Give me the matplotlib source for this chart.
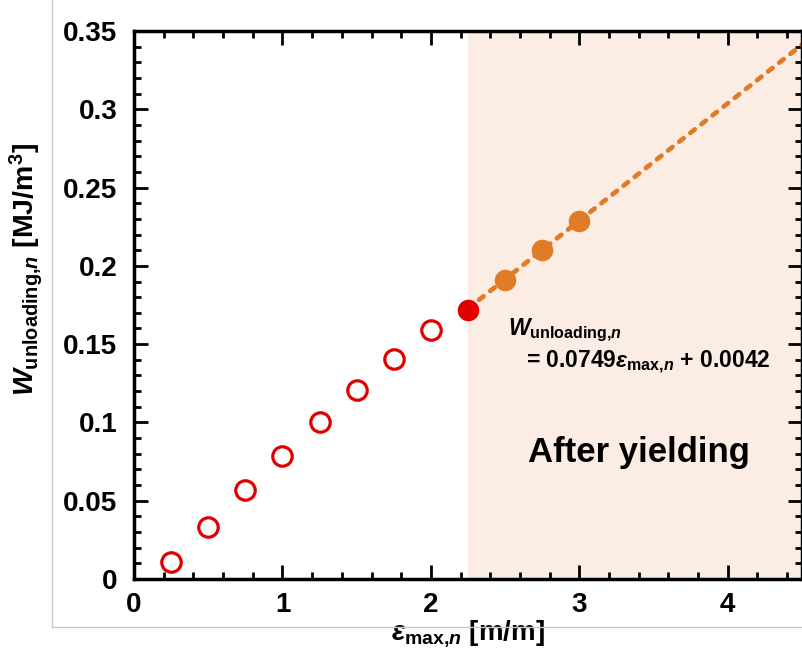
import numpy as np
import matplotlib
matplotlib.use("Agg")
import matplotlib.pyplot as plt
from matplotlib.ticker import MultipleLocator, FuncFormatter
from matplotlib.lines import Line2D

plt.rcParams['font.family'] = 'Liberation Sans'
plt.rcParams['font.weight'] = 'bold'
plt.rcParams['axes.labelweight'] = 'bold'
plt.rcParams['mathtext.fontset'] = 'custom'
plt.rcParams['mathtext.rm'] = 'Liberation Sans:bold'
plt.rcParams['mathtext.bf'] = 'Liberation Sans:bold'
plt.rcParams['mathtext.it'] = 'Liberation Sans:italic:bold'

# before yielding (open red circles)
eps_pre = [0.25, 0.5, 0.75, 1.0, 1.25, 1.5, 1.75, 2.0]
w_pre = [0.011, 0.033, 0.057, 0.0785, 0.100, 0.121, 0.1405, 0.159]
# yield point
eps_yield = [2.25]
w_yield = [0.172]
# after yielding (filled orange)
eps_post = [2.5, 2.75, 3.0]
w_post = [0.191, 0.210, 0.2286]
# linear fit
slope = 0.0749
intercept = 0.0042

red = '#e00000'
orange = '#e07b28'
shade = '#fcede4'

fig = plt.figure(figsize=(8.02, 6.59), dpi=100)
ax = fig.add_axes([134/802, 1-579/659, 668/802, 548/659])

ax.axvspan(2.25, 4.5, color=shade, zorder=0, lw=0)

xf = np.array([2.25, 4.5])
ax.plot(xf, slope*xf + intercept, ls=(0, (1.2, 1.8)), color=orange, lw=3.4,
        dash_capstyle='round', zorder=2)

ax.plot(eps_pre, w_pre, 'o', ms=14, mfc='none', mec=red, mew=2.3, zorder=3)
ax.plot(eps_yield, w_yield, 'o', ms=15.5, color=red, mec='none', zorder=3)
ax.plot(eps_post, w_post, 'o', ms=15.5, color=orange, mec='none', zorder=3)

ax.set_xlim(0, 4.5)
ax.set_ylim(0, 0.35)
ax.xaxis.set_major_locator(MultipleLocator(1))
ax.xaxis.set_minor_locator(MultipleLocator(0.2))
ax.yaxis.set_major_locator(MultipleLocator(0.05))
ax.yaxis.set_minor_locator(MultipleLocator(0.01))
ax.yaxis.set_major_formatter(FuncFormatter(
    lambda v, p: '0' if abs(v) < 1e-9 else ('%.2f' % v).rstrip('0')))
ax.tick_params(which='both', direction='in', top=True, right=True,
               width=2, labelsize=20)
ax.tick_params(axis='y', pad=12)
ax.tick_params(axis='x', pad=9)
ax.tick_params(which='major', length=10)
ax.tick_params(which='minor', length=5)
for s in ax.spines.values():
    s.set_linewidth(2.5)

ax.set_xlabel(r'$ε_{\mathrm{max}{,}n}$ [m/m]', fontsize=20)
ax.set_ylabel(r'$W_{\mathrm{unloading}{,}n}$ [MJ/m$^3$]', fontsize=20.5)
ax.xaxis.set_label_coords(0.5, -0.072)
ax.yaxis.set_label_coords(-0.133, 0.565)

ax.text(2.52, 0.159, r'$W_{\mathrm{unloading}{,}n}$', fontsize=16.5, va='center')
ax.text(2.64, 0.1386, r'= 0.0749$ε_{\mathrm{max}{,}n}$ + 0.0042', fontsize=16.5,
        va='center')
ax.text(3.4, 0.0805, 'After yielding', fontsize=25, ha='center', va='center')

# faint frame from the source image
fig.add_artist(Line2D([52/802, 52/802], [1, 1-627/659], color='#c8c8c8',
                      lw=1, transform=fig.transFigure))
fig.add_artist(Line2D([52/802, 1], [1-627/659, 1-627/659], color='#c8c8c8',
                      lw=1, transform=fig.transFigure))

fig.savefig('out.png', dpi=100)
